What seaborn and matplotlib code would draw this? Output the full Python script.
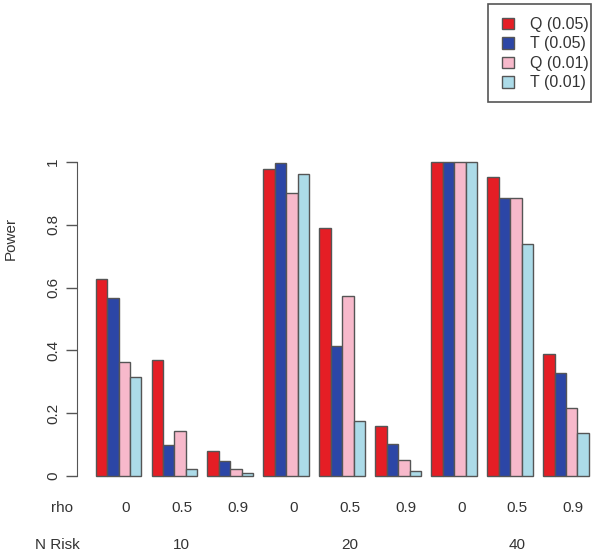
import pandas as pd
import matplotlib.pyplot as plt
import matplotlib.transforms as mtransforms
import seaborn as sns

# 数据
n_risk = ['10', '10', '10', '20', '20', '20', '40', '40', '40']
rho = ['0', '0.5', '0.9', '0', '0.5', '0.9', '0', '0.5', '0.9']
tests = ['Q (0.05)', 'T (0.05)', 'Q (0.01)', 'T (0.01)']
q05 = [0.627, 0.369, 0.080, 0.977, 0.790, 0.159, 1.000, 0.952, 0.389]
t05 = [0.567, 0.099, 0.048, 0.996, 0.414, 0.102, 1.000, 0.885, 0.328]
q01 = [0.363, 0.143, 0.022, 0.900, 0.573, 0.051, 1.000, 0.885, 0.217]
t01 = [0.315, 0.022, 0.010, 0.962, 0.175, 0.016, 1.000, 0.739, 0.137]

colors = ['#e51e25', '#2c46a6', '#f7b9cb', '#acdbe8']

conds = [n + '/' + r for n, r in zip(n_risk, rho)]
rows = []
for t, vals in zip(tests, [q05, t05, q01, t01]):
    for c, v in zip(conds, vals):
        rows.append({'cond': c, 'test': t, 'power': v})
df = pd.DataFrame(rows)

sns.set_style('white')
plt.rcParams['font.family'] = ['Liberation Sans', 'DejaVu Sans']

fig = plt.figure(figsize=(6, 5.55), dpi=100)
W, H = 600, 555
x0, x1 = 77, 595
y0, y1 = 476, 162
ax = fig.add_axes([x0 / W, 1 - y0 / H, (x1 - x0) / W, (y0 - y1) / H])

sns.barplot(data=df, x='cond', y='power', hue='test', order=conds,
            hue_order=tests, palette=dict(zip(tests, colors)), saturation=1,
            width=0.82, edgecolor='#555555', linewidth=1.0, ax=ax, legend=False)

pitch = 55.9
ax.set_xlim(-(118.5 - x0) / pitch, 8 + (x1 - 566) / pitch)
ax.set_ylim(0, 1)
for b in ax.patches:
    b.set_clip_on(False)

for s in ['top', 'right', 'bottom']:
    ax.spines[s].set_visible(False)
ax.spines['left'].set_color('#555555')
ax.spines['left'].set_bounds(0, 1)
ax.set_xticks([])
ax.set_yticks([0, 0.2, 0.4, 0.6, 0.8, 1.0])
ax.set_yticklabels(['0', '0.2', '0.4', '0.6', '0.8', '1'], rotation=90,
                   va='center', fontsize=11, color='#333333')
ax.tick_params(axis='y', left=True, length=8, width=1, color='#555555', pad=4)
ax.set_xlabel('')
ax.set_ylabel('')

fig.text(11 / W, 1 - 238 / H, 'Power', rotation=90, ha='center', va='center',
         fontsize=11, color='#333333')

# 下方标签
trans = mtransforms.blended_transform_factory(ax.transData, fig.transFigure)
fig.text(62 / W, 1 - 508 / H, 'rho', ha='center', va='center', fontsize=11, color='#333333')
for i, r in enumerate(rho):
    ax.text(i + 0.13, 1 - 508 / H, r, transform=trans, ha='center', va='center',
            fontsize=11, color='#333333')
fig.text(57 / W, 1 - 545 / H, 'N Risk', ha='center', va='center', fontsize=11, color='#333333')
for i in [1, 4, 7]:
    ax.text(i + 0.13, 1 - 545 / H, n_risk[i], transform=trans, ha='center', va='center',
            fontsize=11, color='#333333')

# 图例
handles = [plt.Rectangle((0, 0), 1, 1, facecolor=c, edgecolor='#555555', linewidth=1)
           for c in colors]
leg = fig.legend(handles, tests, loc='upper left', bbox_to_anchor=(502 / W, 1 - 17 / H),
                 fontsize=11.5, frameon=False, handlelength=0.75,
                 handleheight=0.75, handletextpad=1.0, labelspacing=0.28,
                 borderpad=0, borderaxespad=0)
for t in leg.get_texts():
    t.set_color('#333333')
fig.patches.append(plt.Rectangle((488 / W, 1 - 102 / H), 103 / W, 98 / H,
                                 transform=fig.transFigure, fill=False,
                                 edgecolor='#555555', linewidth=1.2))

fig.savefig('out.png', dpi=100)
